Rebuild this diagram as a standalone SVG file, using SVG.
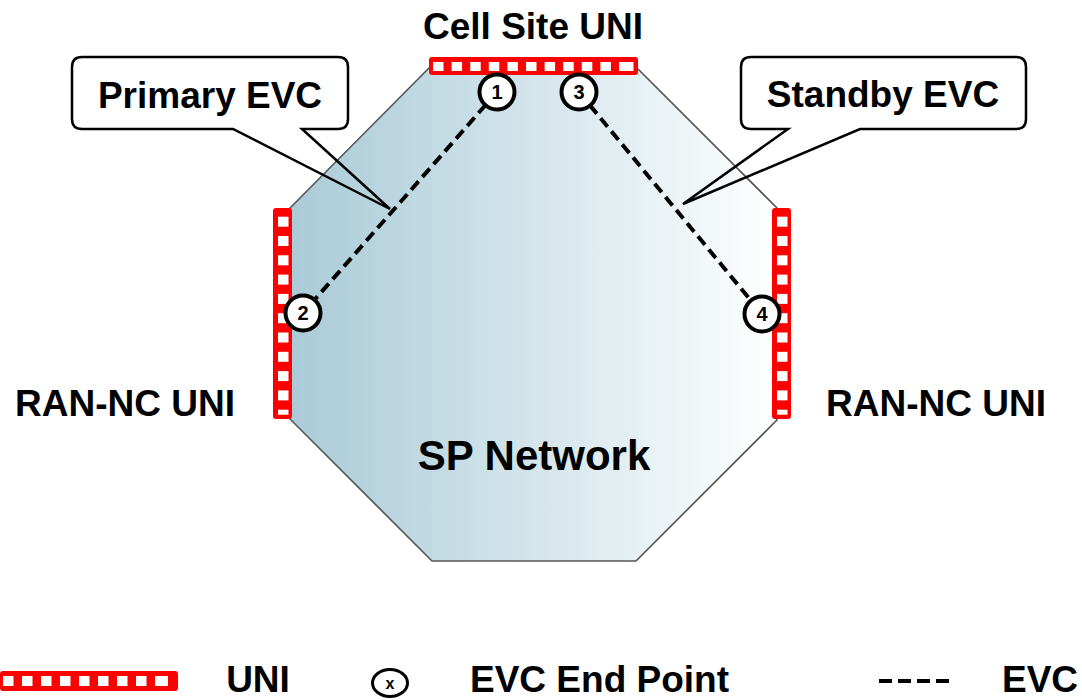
<svg xmlns="http://www.w3.org/2000/svg" width="1082" height="700" viewBox="0 0 1082 700">
<defs>
<linearGradient id="net" gradientUnits="userSpaceOnUse" x1="290" y1="0" x2="777" y2="0">
<stop offset="0" stop-color="#a9cbd7"/>
<stop offset="1" stop-color="#ffffff"/>
</linearGradient>
<style>
.lbl{font-family:"Liberation Sans",Arial,sans-serif;font-weight:bold;font-size:37px;fill:#000}
.num{font-family:"Liberation Sans",Arial,sans-serif;font-weight:bold;font-size:20px;fill:#000;text-anchor:middle}
.bar{fill:#ff0000}
.sq{fill:#ffffff}
.ep{fill:#ffffff;stroke:#000;stroke-width:4}
.evc{stroke:#000;stroke-width:4;stroke-dasharray:11 6;fill:none}
.callout{fill:none;stroke:#000;stroke-width:2.5;stroke-linejoin:miter}
</style>
</defs>
<rect width="1082" height="700" fill="#ffffff"/>

<g id="sp-network">
<polygon points="429,68 637,68 777,208 777,420 636,561 432,561 290,419 290,208" fill="url(#net)" stroke="#555555" stroke-width="1.6"/>
<text class="lbl" x="534" y="470" text-anchor="middle" style="font-size:42px">SP Network</text>
</g>

<g id="callout-primary">
<path class="callout" d="M82,57 H338 Q348,57 348,67 V119 Q348,129 338,129 H302 L390,209 L233,129 H82 Q72,129 72,119 V67 Q72,57 82,57 Z"/>
<text class="lbl" x="210" y="108" text-anchor="middle">Primary EVC</text>
</g>

<g id="callout-standby">
<path class="callout" d="M751,57 H1016 Q1026,57 1026,67 V119 Q1026,129 1016,129 H860 L683,204 L788,129 H751 Q741,129 741,119 V67 Q741,57 751,57 Z"/>
<text class="lbl" x="883" y="107" text-anchor="middle">Standby EVC</text>
</g>

<g id="connectors">
<line class="evc" x1="497" y1="92" x2="303" y2="313"/>
<line class="evc" x1="579" y1="92" x2="762" y2="314"/>
</g>

<g id="uni-cell-site">
<rect class="bar" x="429" y="57" width="209" height="18" rx="3"/>
<rect class="sq" x="433" y="62" width="10.5" height="9"/>
<rect class="sq" x="451.6" y="62" width="10.5" height="9"/>
<rect class="sq" x="470.2" y="62" width="10.5" height="9"/>
<rect class="sq" x="488.8" y="62" width="10.5" height="9"/>
<rect class="sq" x="507.4" y="62" width="10.5" height="9"/>
<rect class="sq" x="526" y="62" width="10.5" height="9"/>
<rect class="sq" x="544.6" y="62" width="10.5" height="9"/>
<rect class="sq" x="563.2" y="62" width="10.5" height="9"/>
<rect class="sq" x="581.8" y="62" width="10.5" height="9"/>
<rect class="sq" x="600.4" y="62" width="10.5" height="9"/>
<rect class="sq" x="619" y="62" width="14.5" height="9"/>
<text class="lbl" x="533" y="39" text-anchor="middle">Cell Site UNI</text>
</g>

<g id="uni-ran-left">
<rect class="bar" x="273" y="208" width="19" height="211" rx="3"/>
<rect class="sq" x="278" y="216.7" width="10.5" height="10"/>
<rect class="sq" x="278" y="236" width="10.5" height="10"/>
<rect class="sq" x="278" y="255.3" width="10.5" height="10"/>
<rect class="sq" x="278" y="274.6" width="10.5" height="10"/>
<rect class="sq" x="278" y="293.9" width="10.5" height="10"/>
<rect class="sq" x="278" y="313.2" width="10.5" height="10"/>
<rect class="sq" x="278" y="332.5" width="10.5" height="10"/>
<rect class="sq" x="278" y="351.8" width="10.5" height="10"/>
<rect class="sq" x="278" y="371.1" width="10.5" height="10"/>
<rect class="sq" x="278" y="390.4" width="10.5" height="10"/>
<rect class="sq" x="278" y="409.7" width="10.5" height="5"/>
<text class="lbl" x="125" y="416" text-anchor="middle">RAN-NC UNI</text>
</g>

<g id="uni-ran-right">
<rect class="bar" x="772" y="208" width="19" height="211" rx="3"/>
<rect class="sq" x="777" y="216.7" width="10.5" height="10"/>
<rect class="sq" x="777" y="236" width="10.5" height="10"/>
<rect class="sq" x="777" y="255.3" width="10.5" height="10"/>
<rect class="sq" x="777" y="274.6" width="10.5" height="10"/>
<rect class="sq" x="777" y="293.9" width="10.5" height="10"/>
<rect class="sq" x="777" y="313.2" width="10.5" height="10"/>
<rect class="sq" x="777" y="332.5" width="10.5" height="10"/>
<rect class="sq" x="777" y="351.8" width="10.5" height="10"/>
<rect class="sq" x="777" y="371.1" width="10.5" height="10"/>
<rect class="sq" x="777" y="390.4" width="10.5" height="10"/>
<rect class="sq" x="777" y="409.7" width="10.5" height="5"/>
<text class="lbl" x="936" y="416" text-anchor="middle">RAN-NC UNI</text>
</g>

<g id="ep1"><circle class="ep" cx="497" cy="92" r="17.5"/><text class="num" x="497" y="99">1</text></g>
<g id="ep2"><circle class="ep" cx="303" cy="313" r="17.5"/><text class="num" x="303" y="320">2</text></g>
<g id="ep3"><circle class="ep" cx="579" cy="92" r="17.5"/><text class="num" x="579" y="99">3</text></g>
<g id="ep4"><circle class="ep" cx="762" cy="314" r="17.5"/><text class="num" x="762" y="321">4</text></g>

<g id="legend">
<rect class="bar" x="0" y="671" width="178" height="20" rx="3"/>
<rect class="sq" x="3" y="676" width="10.5" height="10"/>
<rect class="sq" x="22" y="676" width="10.5" height="10"/>
<rect class="sq" x="41" y="676" width="10.5" height="10"/>
<rect class="sq" x="60" y="676" width="10.5" height="10"/>
<rect class="sq" x="79" y="676" width="10.5" height="10"/>
<rect class="sq" x="98" y="676" width="10.5" height="10"/>
<rect class="sq" x="117" y="676" width="10.5" height="10"/>
<rect class="sq" x="136" y="676" width="10.5" height="10"/>
<rect class="sq" x="155" y="676" width="13" height="10"/>
<text class="lbl" x="258" y="692" text-anchor="middle">UNI</text>
<ellipse cx="390" cy="683" rx="17.5" ry="13.5" fill="#ffffff" stroke="#000" stroke-width="3"/>
<text class="num" x="390" y="689" style="font-size:16px">x</text>
<text class="lbl" x="470" y="692">EVC End Point</text>
<line x1="879" y1="681" x2="950" y2="681" stroke="#000" stroke-width="4" stroke-dasharray="13 6"/>
<text class="lbl" x="1002" y="692">EVC</text>
</g>
</svg>
